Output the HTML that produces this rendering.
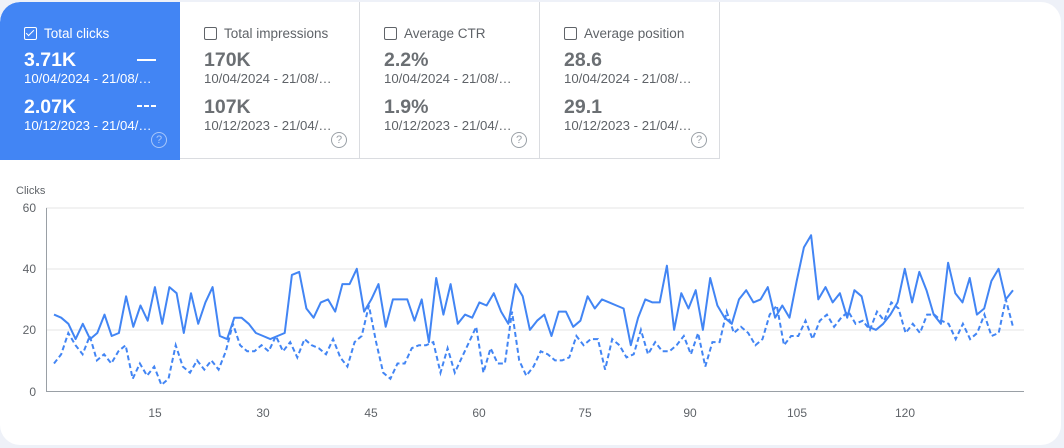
<!DOCTYPE html>
<html><head><style>
body{margin:0;width:1064px;height:448px;background:#eef1f8;font-family:"Liberation Sans",Arial,sans-serif;overflow:hidden;position:relative}
.card{position:absolute;left:0;top:2px;width:1061px;height:443px;background:#fff;border-radius:20px;overflow:hidden}
.tab{position:absolute;top:0;width:180px;height:157px;border-right:1px solid #dadce0;border-bottom:1px solid #dadce0;box-sizing:border-box;color:#5f6368}
.tab.sel{background:#4285f4;color:#fff;border:none;border-top-left-radius:20px;height:158px}
.t{position:absolute;left:24px;top:24px;font-size:13.5px;display:flex;align-items:center}
.cb{width:11px;height:11px;border:1.3px solid #5f6368;border-radius:2px;margin-right:7px;position:relative}
.sel .cb{border-color:#fff}
.sel .cb:after{content:"";position:absolute;left:3px;top:0px;width:3px;height:7px;border:solid #fff;border-width:0 1.5px 1.5px 0;transform:rotate(45deg)}
.v{position:absolute;left:24px;font-size:19.5px;font-weight:bold}
.d{position:absolute;left:24px;font-size:13.2px}
.q{position:absolute;left:151px;top:130px;width:14px;height:14px;border:1.2px solid #9aa0a6;border-radius:50%;font-size:11px;text-align:center;line-height:14px;color:#9aa0a6}
.sel .q{border-color:#a8c7fa;color:#a8c7fa}
.tab:not(.sel) .v{color:#6b6f73}
</style></head><body>
<div class="card">
<div class="tab sel" style="left:0">
<div class="t"><span class="cb"></span>Total clicks</div>
<div class="v" style="top:47px">3.71K</div><div style="position:absolute;left:137px;top:57px;width:19px;height:2px;background:#fff"></div>
<div class="d" style="top:69px">10/04/2024 - 21/08/…</div>
<div class="v" style="top:94px">2.07K</div><div style="position:absolute;left:137px;top:103px;width:19px;height:2px;background:repeating-linear-gradient(90deg,#fff 0 5px,transparent 5px 7px)"></div>
<div class="d" style="top:116px">10/12/2023 - 21/04/…</div>
<div class="q">?</div></div>
<div class="tab" style="left:180px">
<div class="t"><span class="cb"></span>Total impressions</div>
<div class="v" style="top:47px">170K</div><div class="d" style="top:69px">10/04/2024 - 21/08/…</div>
<div class="v" style="top:94px">107K</div><div class="d" style="top:116px">10/12/2023 - 21/04/…</div><div class="q">?</div></div>
<div class="tab" style="left:360px">
<div class="t"><span class="cb"></span>Average CTR</div>
<div class="v" style="top:47px">2.2%</div><div class="d" style="top:69px">10/04/2024 - 21/08/…</div>
<div class="v" style="top:94px">1.9%</div><div class="d" style="top:116px">10/12/2023 - 21/04/…</div><div class="q">?</div></div>
<div class="tab" style="left:540px">
<div class="t"><span class="cb"></span>Average position</div>
<div class="v" style="top:47px">28.6</div><div class="d" style="top:69px">10/04/2024 - 21/08/…</div>
<div class="v" style="top:94px">29.1</div><div class="d" style="top:116px">10/12/2023 - 21/04/…</div><div class="q">?</div></div>
</div>
<svg id="c" width="1064" height="448" style="position:absolute;left:0;top:0" font-family="Liberation Sans,Arial,sans-serif" font-size="12" fill="#5f6368">
<text x="16" y="194" font-size="11">Clicks</text>
<g stroke="#e6e6e6" stroke-width="1"><line x1="46" y1="208" x2="1024" y2="208"/><line x1="46" y1="269" x2="1024" y2="269"/><line x1="46" y1="330" x2="1024" y2="330"/></g>
<line x1="46.5" y1="208" x2="46.5" y2="391" stroke="#9aa0a6"/>
<line x1="46" y1="391.5" x2="1024" y2="391.5" stroke="#9aa0a6"/>
<g text-anchor="end"><text x="36" y="212">60</text><text x="36" y="273">40</text><text x="36" y="334">20</text><text x="36" y="396">0</text></g>
<g text-anchor="middle"><text x="155" y="417">15</text><text x="263" y="417">30</text><text x="371" y="417">45</text><text x="479" y="417">60</text><text x="585" y="417">75</text><text x="690" y="417">90</text><text x="797" y="417">105</text><text x="905" y="417">120</text></g>
<polyline id="s1" fill="none" stroke="#4285f4" stroke-width="2" stroke-linejoin="round"/>
<polyline id="s2" fill="none" stroke="#4285f4" stroke-width="2" stroke-dasharray="5,3"/>
</svg>
<script>
var a=[25,24,22,17,22,17,19,25,18,19,31,21,28,23,34,22,34,32,19,32,22,29,34,18,17,24,24,22,19,18,17,18,19,38,39,27,24,29,30,26,35,35,40,26,30,35,21,30,30,30,23,30,16,37,25,35,22,25,24,29,28,32,26,22,35,31,
20,23,25,18,26,26,21,23,31,27,30,29,28,27,15,24,30,29,29,41,20,32,27,33,20,37,28,24,22,30,33,29,30,34,24,28,24,36,47,51,30,34,29,32,24,33,31,21,20,22,25,29,40,29,39,33,25,22,42,32,29,37,25,27,36,40,30,33];
var b=[9,12,19,15,12,18,10,12,9,13,15,4,9,5,8,2,4,15,8,6,10,7,10,7,13,22,15,13,13,15,13,18,13,16,11,17,15,14,12,17,11,8,16,18,28,16,6,4,9,9,14,15,15,16,6,14,6,11,16,21,6,14,9,9,26,10,
5,8,13,12,10,10,11,18,15,17,17,7,17,15,11,12,20,12,16,13,13,15,18,12,19,8,16,16,26,19,21,19,15,17,25,28,15,18,18,23,17,23,25,21,24,26,22,23,20,26,23,29,27,19,22,19,25,25,23,22,17,22,17,19,25,18,19,30,21];
function pts(d){var n=d.length,s=(1013-54)/(n-1);return d.map(function(v,i){return (54+i*s).toFixed(1)+","+(391-v*3.055).toFixed(1)}).join(" ")}
document.getElementById("s1").setAttribute("points",pts(a));
document.getElementById("s2").setAttribute("points",pts(b));
</script>
</body></html>
